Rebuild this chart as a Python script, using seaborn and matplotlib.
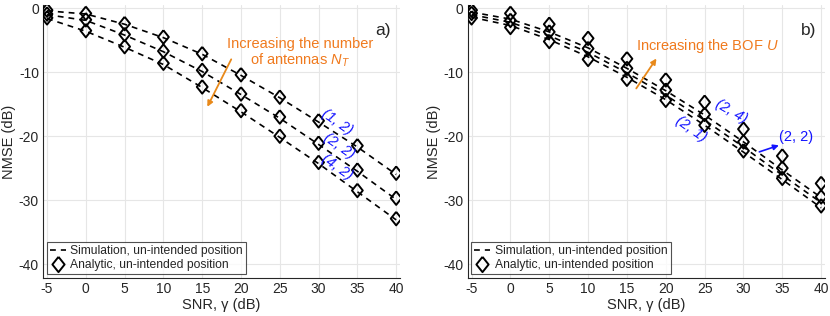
import numpy as np
import pandas as pd
import matplotlib
matplotlib.use("Agg")
import matplotlib.pyplot as plt
import seaborn as sns
from matplotlib.lines import Line2D

snr = [-5, 0, 5, 10, 15, 20, 25, 30, 35, 40]

# panel a) analytic, (N_T, U)
ana_a_12 = [-0.3, -0.8, -2.4, -4.5, -7.1, -10.4, -13.9, -17.6, -21.5, -25.8]
ana_a_22 = [-0.9, -1.8, -4.1, -6.7, -9.7, -13.4, -17.0, -21.1, -25.3, -29.7]
ana_a_42 = [-1.5, -3.5, -6.0, -8.6, -12.3, -16.0, -20.0, -24.1, -28.5, -32.9]
# panel a) simulation
sim_a_12 = [-0.4, -0.9, -2.5, -4.6, -7.2, -10.5, -14.0, -17.8, -21.7, -26.0]
sim_a_22 = [-1.0, -1.9, -4.2, -6.8, -9.9, -13.5, -17.2, -21.3, -25.5, -29.9]
sim_a_42 = [-1.6, -3.6, -6.1, -8.8, -12.4, -16.2, -20.2, -24.3, -28.7, -33.1]

# panel b) analytic, (N_T, U)
ana_b_21 = [-1.5, -3.0, -5.2, -8.0, -11.1, -14.4, -18.3, -22.3, -26.6, -30.9]
ana_b_22 = [-0.8, -1.9, -3.7, -6.3, -9.4, -12.8, -16.6, -20.9, -25.0, -29.5]
ana_b_24 = [-0.3, -0.8, -2.5, -4.7, -7.9, -11.2, -14.7, -18.9, -23.1, -27.4]
# panel b) simulation
sim_b_21 = [-1.4, -2.7, -4.9, -7.6, -10.8, -14.3, -18.3, -22.5, -26.8, -31.2]
sim_b_22 = [-1.0, -2.2, -4.3, -6.9, -10.1, -13.6, -17.5, -21.7, -26.1, -30.4]
sim_b_24 = [-0.6, -1.7, -3.7, -6.2, -9.4, -12.9, -16.7, -20.9, -25.3, -29.6]

def make_df(curves):
    rows = []
    for name, vals in curves.items():
        for x, y in zip(snr, vals):
            rows.append({"snr": x, "nmse": y, "curve": name})
    return pd.DataFrame(rows)

sns.set_style("whitegrid")
plt.rcParams['font.family'] = ['Liberation Sans', 'DejaVu Sans']
plt.rcParams['axes.unicode_minus'] = False
plt.rcParams['mathtext.fontset'] = 'custom'
plt.rcParams['mathtext.it'] = 'Liberation Sans:italic'
plt.rcParams['mathtext.rm'] = 'Liberation Sans'

fig = plt.figure(figsize=(8.3, 3.16), dpi=100)
ax1 = fig.add_axes([0.052, 0.12, 0.43, 0.864])
ax2 = fig.add_axes([0.5635, 0.12, 0.4305, 0.864])

orange = '#F07A1E'
arrow_orange = '#E8891A'
blue = '#1414FF'
diamond = [(0, 1), (0.8, 0), (0, -1), (-0.8, 0), (0, 1)]

panels = [
    (ax1, {"(1, 2)": sim_a_12, "(2, 2)": sim_a_22, "(4, 2)": sim_a_42},
          {"(1, 2)": ana_a_12, "(2, 2)": ana_a_22, "(4, 2)": ana_a_42}, "a)"),
    (ax2, {"(2, 1)": sim_b_21, "(2, 2)": sim_b_22, "(2, 4)": sim_b_24},
          {"(2, 1)": ana_b_21, "(2, 2)": ana_b_22, "(2, 4)": ana_b_24}, "b)"),
]

for ax, sims, anas, tag in panels:
    dsim = make_df(sims)
    dana = make_df(anas)
    sns.lineplot(data=dsim, x="snr", y="nmse", hue="curve",
                 palette=["black"] * 3, linestyle=(0, (3.5, 3)), linewidth=1.2,
                 legend=False, ax=ax)
    sns.scatterplot(data=dana, x="snr", y="nmse", marker=diamond, s=95,
                    facecolor="none", edgecolor="black", linewidth=1.4,
                    legend=False, ax=ax, zorder=3)
    ax.set_xlim(-5.5, 40.5)
    ax.set_ylim(-42.2, 0.5)
    ax.set_xticks(np.arange(-5, 41, 5))
    ax.set_yticks([-40, -30, -20, -10, 0])
    ax.grid(True, color='#E6E6E6', linewidth=0.8)
    ax.set_axisbelow(True)
    for s in ['top', 'right']:
        ax.spines[s].set_visible(False)
    for s in ['left', 'bottom']:
        ax.spines[s].set_color('#262626')
        ax.spines[s].set_linewidth(0.8)
    ax.tick_params(axis='both', labelsize=10, colors='#262626', direction='in',
                   length=3, pad=3)
    ax.set_xlabel('SNR, γ (dB)', fontsize=10.5, color='#262626', labelpad=1)
    ax.set_ylabel('NMSE (dB)', fontsize=10.5, color='#262626', labelpad=2)
    ax.text(0.975, 0.905, tag, transform=ax.transAxes, ha='right', va='center',
            fontsize=12.5)
    handles = [Line2D([0], [0], color='black', linestyle=(0, (3.5, 3)), linewidth=1.2),
               Line2D([0], [0], color='black', marker=diamond, markersize=11,
                      markerfacecolor='none', markeredgewidth=1.4, linestyle='none')]
    leg = ax.legend(handles, ['Simulation, un-intended position',
                              'Analytic, un-intended position'],
                    loc='lower left', fontsize=8.7, frameon=True, fancybox=False,
                    borderpad=0.25, labelspacing=0.2, handlelength=1.3,
                    handletextpad=0.4, borderaxespad=0.3)
    leg.get_frame().set_edgecolor('#262626')
    leg.get_frame().set_linewidth(0.8)

# panel a) annotations
ax1.text(27.6, -7.0, 'Increasing the number\nof antennas $N_T$', color=orange,
         fontsize=10.5, ha='center', va='center', linespacing=1.1)
ax1.annotate('', xy=(15.5, -15.8), xytext=(18.9, -7.6),
             arrowprops=dict(arrowstyle='-|>', color=arrow_orange, lw=1.3,
                             mutation_scale=8))
for lab, x, y in [("(1, 2)", 32.4, -17.8), ("(2, 2)", 32.6, -21.5), ("(4, 2)", 32.4, -24.9)]:
    ax1.text(x, y, lab, color=blue, fontsize=10.5, style='italic', rotation=-35,
             ha='center', va='center')

# panel b) annotations
ax2.text(25.3, -5.9, 'Increasing the BOF $U$', color=orange, fontsize=10.5,
         ha='center', va='center')
ax2.annotate('', xy=(19.0, -7.5), xytext=(16.0, -12.9),
             arrowprops=dict(arrowstyle='-|>', color=arrow_orange, lw=1.3,
                             mutation_scale=8))
ax2.text(28.5, -16.2, "(2, 4)", color=blue, fontsize=10.5, style='italic',
         rotation=-30, ha='center', va='center')
ax2.text(23.2, -18.9, "(2, 1)", color=blue, fontsize=10.5, style='italic',
         rotation=-35, ha='center', va='center')
ax2.text(36.8, -20.1, "(2, 2)", color=blue, fontsize=10.5, ha='center', va='center')
ax2.annotate('', xy=(34.9, -21.3), xytext=(31.7, -22.6),
             arrowprops=dict(arrowstyle='-|>', color=blue, lw=1.2, mutation_scale=8))

fig.savefig('out.png', dpi=100)
